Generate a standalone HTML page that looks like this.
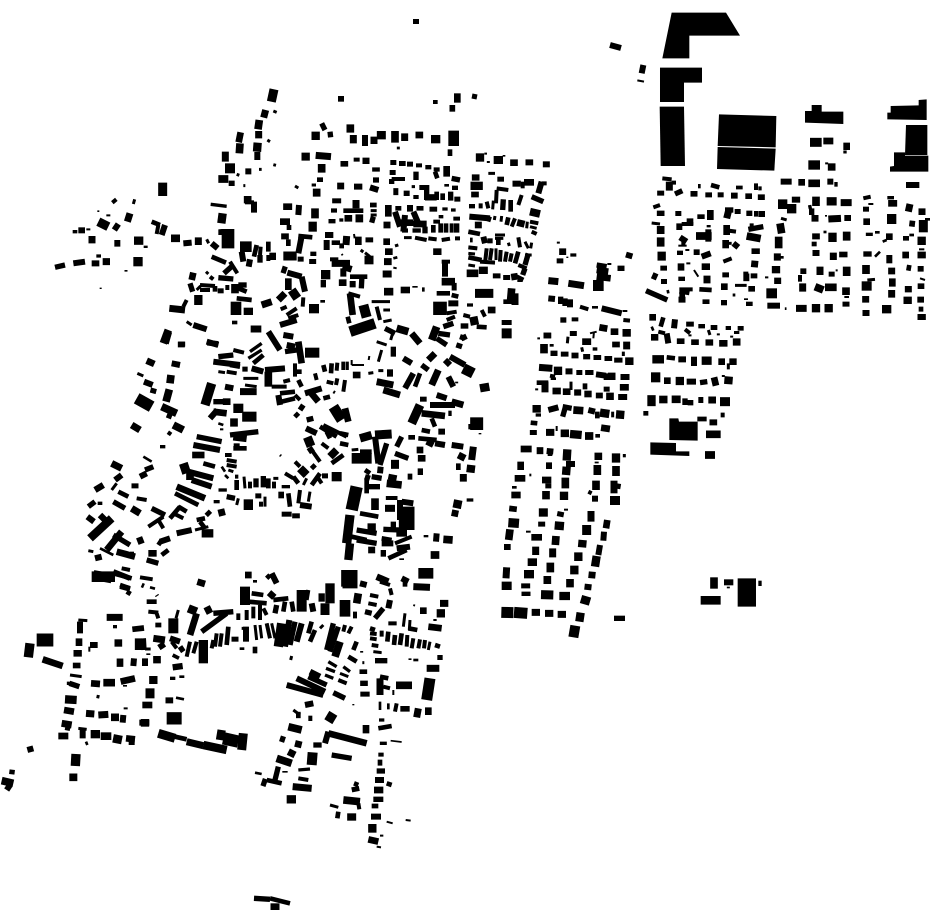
<!DOCTYPE html>
<html><head><meta charset="utf-8"><title>Figure-ground plan</title>
<style>
html,body{margin:0;padding:0;background:#fff}
svg{display:block}
path{stroke:#000;fill:none}
polygon{fill:#000}
.w3{stroke-width:5}.w4{stroke-width:6}.w5{stroke-width:8}.w6{stroke-width:9}.w7{stroke-width:10}.w8{stroke-width:12}.w10{stroke-width:14}.w12{stroke-width:16}.w13{stroke-width:17}.w14{stroke-width:18}.w15{stroke-width:19}.w16{stroke-width:20}.w18{stroke-width:21}.w20{stroke-width:23}.w22{stroke-width:25}.w24{stroke-width:27}.w25{stroke-width:28}.w26{stroke-width:28}.w28{stroke-width:30}.w30{stroke-width:32}.w32{stroke-width:33}.w34{stroke-width:35}.w36{stroke-width:37}.w38{stroke-width:39}.w40{stroke-width:41}.w42{stroke-width:43}.w44{stroke-width:45}.w46{stroke-width:47}
</style></head><body>
<svg xmlns="http://www.w3.org/2000/svg" width="930" height="924" viewBox="0 0 930 924">
<rect width="930" height="924" fill="#fff"/>
<path class="w4" d="M416 19 416 24M610 45 621 48"/><path class="w3" d="M472 96 477 97"/>
<!-- Z1 -->
<g transform="translate(150 80) scale(.33333)">
<path class=w24 d="M372 28 364 65"/><path class=w18 d="M347 90 341 113"/><path class=w14 d="M573 48 573 65"/><path class=w10 d="M856 60 856 72"/><path class=w16 d="M922 40 922 68"/><path class=w13 d="M907 75 907 95"/><path class=w6 d="M370 93 380 97M352 180 360 185M327 268 335 268M370 254 378 256M260 283 268 286M280 317 286 317M170 478 176 490M435 318 445 324M485 315 498 315M745 200 745 208"/>
<path class=w20 d="M328 120 324 148M270 190 268 220M205 297 235 297M63 475 90 475M601 133 601 158M808 155 808 175M515 252 515 278M583 243 583 260M500 326 500 350M678 262 678 275"/>
<path class=w18 d="M326 153 326 175M226 215 226 245M764 160 764 183M610 165 610 190M648 233 648 252M497 226 543 230M572 308 572 328"/><path class=w16 d="M272 157 266 187"/><path class=w22 d="M323 188 321 215M497 155 497 180M467 218 467 242"/><path class=w14 d="M322 216 322 240M295 265 295 283M245 302 245 318M620 233 620 245M510 292 510 306M612 320 637 320M660 322 685 330M678 292 678 308"/>
<path class=w28 d="M240 250 240 280"/><path class=w24 d="M38 308 38 348M694 153 694 178M413 370 413 390"/><path class=w20 d="M293 348 293 370M735 153 735 188"/><path class=w14 d="M312 365 312 398M645 165 645 198"/><path class=w8 d="M285 367 312 367"/><path class=w7 d="M182 373 230 379"/><path class=w22 d="M218 400 214 430"/>
<polygon points="215,447 253,447 253,505 215,505 215,465 205,465 205,448"/>
<path class=w10 d="M5 425 30 435"/><path class=w8 d="M25 435 20 462"/><path class=w14 d="M45 435 35 465M100 490 125 488M185 490 203 505M447 375 445 405"/><path class=w18 d="M145 472 145 495M672 170 672 192"/><path class=w26 d="M857 165 857 190"/><path class=w30 d="M911 152 911 198M270 500 305 500"/><path class=w12 d="M515 130 525 150M540 155 542 172"/><path class=w10 d="M900 208 900 228"/>
<path class=w20 d="M495 385 495 415M405 460 405 478"/><path class=w28 d="M405 415 405 435"/><path class=w10 d="M417 435 417 450M415 478 415 498M445 468 487 472M320 495 312 530M355 485 355 515"/><path class=w22 d="M488 425 488 455"/><path class=w14 d="M455 468 445 520M275 515 280 545M300 538 296 560"/><path class=w24 d="M400 528 440 528"/><path class=w14 d="M452 530 452 545M490 515 490 528"/><path class=w18 d="M488 537 488 552M395 567 410 572"/>
<path class=w8 d="M332 500 330 525"/><path class=w12 d="M330 525 330 548"/><path class=w16 d="M368 518 368 540"/><path class=w8 d="M355 525 355 543"/><path class=w14 d="M412 578 455 590M455 590 465 635"/><path class=w16 d="M415 595 415 630"/><path class=w18 d="M385 660 405 640M335 675 365 665"/><path class=w24 d="M425 630 442 655"/><path class=w8 d="M460 652 458 680"/><path class=w28 d="M492 672 492 700"/><path class=w10 d="M518 660 518 668"/>
<!-- dense NE -->
<path class=w14 d="M730 240 730 255M780 245 780 260M807 250 807 262M835 255 835 268M860 262 860 275M728 270 728 285M770 332 770 348M745 378 745 392M780 375 780 395M922 350 922 365M915 317 915 330"/><path class=w16 d="M757 243 757 258M890 258 890 290M715 375 715 410M920 410 920 422"/><path class=w8 d="M725 297 765 297M850 425 870 425M905 430 905 458M795 473 830 480M835 475 860 478M875 480 900 476M915 475 930 475"/><path class=w12 d="M725 297 725 312M798 275 798 300M905 295 930 300M798 345 798 357M830 315 830 360M902 335 902 362M885 382 885 392M825 440 825 460M920 430 920 458"/><path class=w10 d="M855 275 862 295M890 312 890 320M815 315 815 330M860 335 860 360M878 340 878 360M910 385 910 395M873 405 873 415M850 435 850 458M872 430 872 458M888 430 888 458"/><path class=w18 d="M730 335 745 335M810 378 810 392M711 425 711 445"/><path class=w15 d="M825 352 860 352"/><path class=w20 d="M850 380 850 395"/><path class=w14 d="M735 395 750 440M765 405 760 455M790 395 805 430M765 445 765 458"/><path class=w16 d="M745 428 790 428M790 432 830 432M710 475 710 495"/><path class=w22 d="M800 445 800 458"/><path class=w6 d="M762 473 785 473M785 320 795 320"/>
<path class=w24 d="M560 355 560 370"/><path class=w18 d="M618 360 618 385"/><path class=w16 d="M670 368 670 382M625 470 625 495"/><path class=w10 d="M580 392 640 392M545 488 570 488M575 490 575 505"/><path class=w14 d="M552 385 552 398M525 465 550 465M530 480 530 510"/><path class=w6 d="M662 392 680 392M662 405 680 405M632 510 640 516M645 518 660 530"/><path class=w12 d="M670 410 665 428"/><path class=w20 d="M595 405 595 425M628 403 628 427M658 472 658 487"/><path class=w18 d="M546 417 546 430M590 468 588 495"/><path class=w8 d="M574 415 574 425"/><path class=w4 d="M612 462 614 475M575 522 578 526"/><path class=w24 d="M657 527 657 553"/>
<path class=w8 d="M540 538 565 538"/><path class=w18 d="M545 550 600 550"/><path class=w16 d="M578 560 605 568"/><path class=w14 d="M580 565 580 590M608 603 608 622"/><path class=w20 d="M578 598 578 618"/><path class=w12 d="M636 585 634 625M520 600 520 622"/><path class=w10 d="M600 590 652 590"/><path class=w26 d="M527 570 527 598"/>
<path class=w16 d="M705 515 728 515"/><path class=w18 d="M702 545 725 545M698 582 725 582"/><path class=w5 d="M730 535 742 532M820 622 820 635"/><path class=w6 d="M735 498 745 495"/><path class=w4 d="M730 563 740 565"/><path class=w20 d="M702 635 730 635"/><path class=w16 d="M752 630 780 630"/><path class=w12 d="M795 618 795 623"/><path class=w22 d="M862 505 862 525"/>
<path class=w10 d="M185 530 228 548"/><path class=w8 d="M240 545 262 580"/><path class=w12 d="M222 580 250 555M205 593 250 597M120 610 128 635"/><path class=w16 d="M130 578 125 600"/><path class=w6 d="M168 575 175 582"/><path class=w8 d="M180 590 190 598M150 615 195 618M150 630 180 630"/><path class=w22 d="M145 645 145 675"/><path class=w6 d="M140 630 152 618"/><path class=w10 d="M195 618 195 635"/><path class=w14 d="M212 625 212 640"/><path class=w8 d="M232 615 232 630"/><path class=w20 d="M255 612 255 640"/><path class=w12 d="M290 615 265 615"/><path class=w10 d="M265 625 290 635M260 655 305 660"/><path class=w30 d="M258 665 258 705"/><path class=w26 d="M295 683 295 705"/>
<path class=w18 d="M58 685 105 690"/><path class=w8 d="M110 660 100 680"/><path class=w6 d="M110 725 125 735"/><path class=w14 d="M130 735 170 748M170 785 205 795"/><path class=w20 d="M55 750 40 790"/><path class=w18 d="M94 785 94 802M302 747 334 747"/><path class=w12 d="M254 722 254 733"/>
<path class=w8 d="M392 688 410 680M410 705 440 685M415 715 445 705"/><path class=w14 d="M390 735 440 720"/><path class=w16 d="M600 640 608 705"/><path class=w8 d="M595 640 630 650M680 680 690 720"/><path class=w28 d="M640 675 650 712"/><path class=w10 d="M593 710 598 730"/><path class=w30 d="M600 755 675 730"/><path class=w6 d="M665 665 720 665M700 690 720 690M700 725 725 720M728 760 722 780"/><path class=w12 d="M705 745 735 760"/><path class=w20 d="M740 745 775 755"/>
<path class=w8 d="M875 545 900 545"/><path class=w14 d="M885 545 885 590M895 670 925 670"/><path class=w20 d="M875 605 915 605M905 620 920 620M860 740 845 780"/><path class=w10 d="M860 640 900 640M905 645 925 650"/><path class=w40 d="M870 665 870 705"/><path class=w8 d="M890 700 920 695M890 720 915 710"/><path class=w12 d="M880 740 910 730"/>
</g>
<!-- Z6 -->
<g transform="translate(440 140) scale(.33333)">
<path class=w22 d="M120 40 120 65"/><path class=w5 d="M137 38 137 44M192 45 192 50"/><path class=w6 d="M145 63 145 69M145 100 165 100"/><path class=w26 d="M175 48 175 72"/><path class=w20 d="M222 58 222 78M268 58 268 76M107 103 107 122M105 155 105 172"/><path class=w18 d="M319 64 319 82"/><path class=w16 d="M182 110 182 125"/><path class=w36 d="M110 125 110 150"/>
<path class=w14 d="M96 192 96 205M305 125 295 160"/><path class=w8 d="M122 190 122 205M140 185 145 205M170 145 205 150M170 150 168 190M245 165 235 195M305 130 320 130"/><path class=w6 d="M160 182 158 208"/><path class=w12 d="M190 178 188 210M275 170 310 185"/><path class=w10 d="M212 180 212 215"/><path class=w22 d="M230 122 230 140"/><path class=w28 d="M267 117 267 137"/><path class=w8 d="M248 125 248 145"/><path class=w20 d="M270 215 300 222M245 240 240 260"/>
<path class=w14 d="M88 230 150 235"/><path class=w18 d="M115 245 115 265"/><path class=w8 d="M150 230 145 245M225 235 215 260M270 245 295 250M275 275 290 282M85 322 112 325"/><path class=w6 d="M165 228 163 240M185 228 183 245M262 245 260 265M270 260 290 265M165 285 195 285M165 295 190 295M205 308 208 318M255 305 265 325M275 308 272 325M85 340 105 342M85 375 105 378"/><path class=w10 d="M205 232 200 255M85 275 120 282M90 300 98 300M175 298 175 315M85 352 125 360"/><path class=w14 d="M130 290 135 310"/><path class=w12 d="M150 295 150 310"/><path class=w8 d="M235 292 240 322"/>
<path class=w8 d="M140 325 135 370M155 325 150 360M182 330 180 365M200 335 195 365M215 340 210 365M120 365 165 368M235 375 260 385"/><path class=w6 d="M168 325 168 360M255 345 275 345"/><path class=w10 d="M235 335 225 370M230 410 250 420"/><path class=w12 d="M265 340 255 375M255 385 248 405M240 420 240 426"/><path class=w20 d="M80 400 115 400M170 400 170 415"/><path class=w24 d="M130 380 130 402M105 460 160 460"/><path class=w18 d="M200 405 200 420"/><path class=w16 d="M222 400 225 420"/>
<path class=w20 d="M215 445 212 480M155 500 155 520"/><path class=w18 d="M225 460 225 495"/><path class=w10 d="M190 485 225 485M110 560 140 562"/><path class=w14 d="M90 490 90 500M68 585 75 600"/><path class=w8 d="M125 510 135 530M70 525 90 530"/><path class=w22 d="M100 530 105 555"/><path class=w12 d="M62 558 85 558"/><path class=w28 d="M200 540 200 555M200 565 200 595"/><path class=w20 d="M322 578 322 595"/>
</g>
<!-- Z7 -->
<g transform="translate(50 190) scale(.33333)">
<path class=w8 d="M187 38 199 28M175 73 175 79M115 115 115 121M287 167 287 174"/><path class=w6 d="M250 42 254 28M228 240 228 245"/><path class=w4 d="M145 61 145 66M152 293 152 297"/><path class=w18 d="M240 70 232 95M126 138 126 160M158 215 180 215"/><path class=w24 d="M145 95 175 110"/><path class=w14 d="M205 102 193 120M202 150 202 170M70 220 105 215M125 220 148 220"/><path class=w10 d="M75 120 75 130M146 193 146 203"/><path class=w16 d="M95 112 95 130"/><path class=w22 d="M252 152 280 152"/><path class=w12 d="M15 232 45 225"/><path class=w26 d="M250 215 278 215"/>
</g>
<!-- Z8 -->
<g transform="translate(80 450) scale(.33333)">
<path class=w18 d="M95 40 125 55"/><path class=w14 d="M105 90 125 75M22 200 42 215M45 325 65 320"/><path class=w6 d="M95 120 110 100M25 302 40 305"/><path class=w15 d="M45 120 70 105M60 195 75 210"/><path class=w10 d="M115 125 145 140M60 155 60 165M100 370 155 385M120 405 150 415"/><path class=w12 d="M100 155 135 175M25 170 45 155M100 255 150 285"/><path class=w22 d="M30 265 95 205"/><path class=w16 d="M80 300 125 245M110 305 165 320"/><path class=w5 d="M60 295 100 315"/><path class=w30 d="M35 380 105 380"/><path class=w8 d="M125 355 150 360"/>
</g>
<!-- Z2 -->
<g transform="translate(130 330) scale(.33333)">
<path class=w20 d="M115 5 105 40M123 135 120 160M118 178 108 215M95 230 140 250M130 285 160 300"/><path class=w18 d="M155 35 155 50M5 285 30 300"/><path class=w13 d="M232 38 265 42"/><path class=w16 d="M50 92 73 102"/><path class=w14 d="M125 100 150 105M42 155 68 165M72 175 68 190"/><path class=w6 d="M22 130 40 138"/><path class=w34 d="M20 205 65 230"/><path class=w12 d="M125 240 115 265M98 345 98 355"/><path class=w8 d="M122 305 115 315"/>
<path class=w14 d="M250 95 330 105"/><path class=w12 d="M265 80 310 75"/><path class=w8 d="M310 60 342 68M290 125 320 130"/><path class=w10 d="M300 105 330 110"/><path class=w6 d="M265 125 285 128M340 145 385 145M345 165 380 170"/><path class=w7 d="M360 65 395 40M355 85 395 60"/><path class=w10 d="M370 100 400 75"/><path class=w12 d="M345 110 345 125M465 65 500 60"/><path class=w14 d="M365 115 400 125M415 5 450 60M460 15 490 20M470 45 495 50"/><path class=w18 d="M330 185 380 185"/><path class=w16 d="M505 35 515 100"/><path class=w28 d="M525 68 568 68"/>
<path class=w14 d="M405 120 465 115M445 195 450 225"/><path class=w20 d="M415 125 415 170"/><path class=w8 d="M425 170 470 170M460 155 480 150M495 100 495 140M495 195 510 210"/><path class=w10 d="M450 190 495 185M455 215 495 205M500 125 515 125M505 150 515 170"/>
<path class=w8 d="M555 130 560 150M622 98 620 122M640 95 640 120M590 155 610 160M622 145 618 165M645 150 640 185"/><path class=w10 d="M580 105 585 125M605 100 603 130"/><path class=w6 d="M652 95 652 120M610 185 615 188M715 130 730 128M745 122 760 122"/><path class=w4 d="M665 90 665 105M665 105 702 105M718 78 716 90"/><path class=w20 d="M680 125 680 145"/><path class=w14 d="M780 118 780 140"/>
<path class=w12 d="M790 50 790 80"/><path class=w14 d="M820 85 845 100M850 130 825 175"/><path class=w6 d="M755 60 745 95M740 35 770 45"/><path class=w18 d="M740 155 790 165"/><path class=w16 d="M760 180 810 195"/><path class=w10 d="M870 130 855 170"/><path class=w12 d="M875 105 895 120"/>
<path class=w16 d="M845 10 870 40M895 90 915 70"/><path class=w12 d="M925 10 960 15M920 25 950 45M1000 15 995 30"/><path class=w14 d="M990 40 985 55M960 80 1005 105M945 90 960 105"/><path class=w30 d="M1000 115 1030 130"/><path class=w18 d="M925 120 905 165"/><path class=w14 d="M955 140 970 170"/><path class=w6 d="M980 155 980 160"/><path class=w22 d="M1050 175 1078 170"/><path class=w16 d="M880 200 880 215"/>
<path class=w24 d="M870 225 845 280"/><path class=w16 d="M875 250 945 258M965 215 1000 225"/><path class=w14 d="M900 225 975 225M920 195 950 205M925 305 945 305"/><path class=w10 d="M905 265 915 290M875 300 900 305"/><path class=w12 d="M955 250 965 250"/><path class=w38 d="M1040 262 1040 300"/><path class=w12 d="M1015 290 1030 290"/><path class=w5 d="M1050 309 1050 313"/>
<path class=w12 d="M520 225 510 240M495 250 505 260M530 270 550 265"/><path class=w16 d="M540 185 565 215"/><path class=w14 d="M525 190 575 175"/><path class=w10 d="M580 205 600 200"/><path class=w30 d="M610 230 635 270"/><path class=w16 d="M645 235 655 275"/><path class=w14 d="M528 295 560 310"/><path class=w10 d="M570 290 620 320M590 305 600 325M630 310 655 315M630 340 655 345M605 400 640 375"/><path class=w8 d="M580 285 650 320M575 340 595 355M545 360 570 395"/><path class=w28 d="M525 340 550 330"/><path class=w14 d="M535 365 550 355M585 430 585 445"/><path class=w20 d="M600 380 620 360"/><path class=w26 d="M605 440 635 440"/>
<path class=w8 d="M495 395 510 410M465 430 490 445M565 445 575 460"/><path class=w22 d="M510 415 530 435"/><path class=w12 d="M545 405 555 415"/><path class=w10 d="M490 440 505 460M545 465 570 430"/><path class=w6 d="M530 445 520 465"/><path class=w10 d="M320 450 320 480M415 445 415 475"/><path class=w6 d="M342 440 345 475M430 445 445 445"/><path class=w8 d="M360 455 360 475M432 455 432 475"/><path class=w12 d="M378 445 378 472M400 438 400 472"/><path class=w7 d="M455 470 480 470"/><path class=w16 d="M445 495 462 495"/><path class=w10 d="M475 490 480 530"/><path class=w8 d="M510 480 505 520"/><path class=w6 d="M540 485 535 515"/><path class=w14 d="M510 525 545 530M385 490 385 505"/><path class=w28 d="M470 545 470 560"/><path class=w20 d="M498 550 498 565"/><path class=w6 d="M405 500 405 530M325 505 320 525"/><path class=w8 d="M393 515 393 530"/><path class=w26 d="M355 508 355 540"/><path class=w12 d="M290 500 315 505"/><path class=w14 d="M260 510 260 520"/><path class=w22 d="M278 475 278 485"/>
<path class=w12 d="M200 320 275 335"/><path class=w14 d="M190 345 270 360M175 425 250 445M185 450 245 470"/><path class=w36 d="M205 365 205 385"/><path class=w10 d="M220 400 255 410M135 490 205 525"/><path class=w24 d="M160 400 170 430"/><path class=w16 d="M140 470 225 505"/><path class=w20 d="M180 425 180 450"/>
<path class=w12 d="M300 315 385 305"/><path class=w20 d="M310 320 350 325M312 265 312 290"/><path class=w14 d="M320 340 320 360"/><path class=w10 d="M310 355 350 355"/><path class=w8 d="M285 375 305 375M290 390 320 395M290 405 320 410M315 440 325 440"/><path class=w5 d="M275 410 285 425M285 435 295 445M265 280 280 285"/><path class=w6 d="M295 420 310 425"/>
<path class=w26 d="M245 160 225 225"/><path class=w12 d="M250 215 300 215"/><path class=w20 d="M290 205 290 225"/><path class=w14 d="M285 170 310 175M240 265 262 240"/><path class=w16 d="M250 245 290 250"/><path class=w4 d="M270 298 280 298"/><path class=w25 d="M310 235 340 235"/><path class=w42 d="M358 245 358 275"/>
<path class=w5 d="M40 380 65 395"/><path class=w12 d="M45 420 70 410"/><path class=w14 d="M30 440 50 430"/><path class=w18 d="M15 460 15 475M5 535 30 550"/><path class=w8 d="M20 505 50 510M55 590 100 560M85 570 100 595M130 550 160 565"/><path class=w12 d="M65 535 105 555"/><path class=w10 d="M120 565 150 530M145 530 170 545"/><path class=w14 d="M140 610 185 600M90 635 120 625"/><path class=w18 d="M22 635 40 628"/><path class=w10 d="M85 645 95 630M95 675 115 660"/><path class=w16 d="M55 670 80 670"/><path class=w12 d="M50 690 85 700"/><path class=w16 d="M0 675 12 675"/>
<path class=w10 d="M200 570 225 565"/><path class=w14 d="M230 545 240 555"/><path class=w18 d="M265 550 285 545"/><path class=w22 d="M215 610 250 610"/><path class=w6 d="M195 600 235 590"/><path class=w10 d="M210 575 225 595"/>
<path class=w36 d="M680 470 665 540"/><path class=w26 d="M660 555 650 640"/><path class=w22 d="M660 640 655 690"/><path class=w12 d="M705 440 720 445M710 470 750 470M725 440 755 445M680 600 740 610M680 630 740 640"/><path class=w10 d="M710 445 710 490M690 550 745 560M665 620 710 630"/><path class=w20 d="M735 505 735 540"/><path class=w22 d="M725 580 725 610"/><path class=w18 d="M725 650 725 670"/>
<path class=w30 d="M665 385 725 385"/><path class=w10 d="M690 365 725 365M705 420 720 430"/><path class=w6 d="M665 360 685 358"/><path class=w22 d="M690 325 725 315"/><path class=w24 d="M735 315 785 312"/><path class=w14 d="M735 320 745 400M752 410 750 430"/><path class=w12 d="M770 340 750 405M815 320 800 350M795 370 835 385"/><path class=w10 d="M835 322 855 322"/><path class=w24 d="M783 403 807 403"/><path class=w20 d="M770 460 815 465"/><path class=w14 d="M775 440 800 445"/><path class=w34 d="M785 498 785 510"/><path class=w18 d="M765 535 795 535"/><path class=w14 d="M815 515 850 520"/><path class=w46 d="M830 530 830 600"/><path class=w14 d="M810 510 810 570"/><path class=w12 d="M760 598 810 600M790 575 790 595"/><path class=w30 d="M815 595 815 620"/><path class=w10 d="M755 625 785 630M775 685 830 660"/><path class=w14 d="M755 640 790 640M800 655 840 650"/><path class=w8 d="M795 640 845 620"/><path class=w12 d="M760 660 760 680"/><path class=w10 d="M815 685 815 690"/>
<path class=w14 d="M833 440 847 440M890 335 910 345M915 340 945 345M965 345 1000 350"/><path class=w16 d="M863 425 879 425M870 350 870 370"/><path class=w10 d="M865 325 920 330M985 400 985 420"/><path class=w20 d="M875 375 875 395M1010 415 1035 418"/><path class=w18 d="M985 375 1005 385M1030 350 1025 390M1000 432 1000 455"/><path class=w22 d="M970 520 995 525"/><path class=w16 d="M1020 505 1020 515M965 548 985 552"/><path class=w10 d="M888 615 888 622"/><path class=w14 d="M920 610 918 635"/><path class=w20 d="M940 628 968 630M902 675 928 675"/>
<path class=w5 d="M450 375 453 378"/>
</g>
<!-- Z3 -->
<g transform="translate(0 570) scale(.33333)">
<path class=w28 d="M280 15 335 25M735 50 735 105M905 60 905 125"/><path class=w12 d="M340 5 390 25"/><path class=w10 d="M360 50 390 58M380 65 392 72M425 45 432 48M440 95 470 95M800 15 810 25M755 70 790 75M745 95 800 100M820 90 865 85M855 95 850 125M875 95 880 125"/><path class=w8 d="M420 22 458 28M445 125 475 128M470 130 475 145M470 75 472 78M765 30 765 38M790 115 800 135M925 60 920 90"/><path class=w5 d="M450 52 465 56"/><path class=w14 d="M475 158 475 172M815 10 830 40M935 100 940 125"/><path class=w16 d="M592 35 615 42M735 15 755 15M807 68 823 82"/><path class=w12 d="M830 105 825 130"/>
<path class=w26 d="M990 40 990 100"/><path class=w15 d="M965 70 965 95"/><path class=w24 d="M975 100 975 135"/><path class=w44 d="M1050 0 1050 55"/><path class=w15 d="M1033 0 1033 50"/><path class=w30 d="M1035 90 1035 140M1255 10 1300 10"/><path class=w20 d="M1075 70 1070 100"/><path class=w8 d="M1065 125 1065 145M1140 35 1170 45M1170 55 1175 75M1110 75 1135 80M1105 100 1130 105"/><path class=w14 d="M1080 40 1100 45M1205 25 1225 35M1170 90 1165 115"/><path class=w16 d="M1130 20 1165 35M1260 122 1280 122"/><path class=w10 d="M1215 35 1215 50"/><path class=w18 d="M1240 50 1290 52M1320 100 1345 100"/><path class=w12 d="M1095 125 1115 130M1150 115 1125 145"/><path class=w22 d="M1310 130 1335 130"/><path class=w4 d="M1240 105 1245 107M1300 150 1310 150"/>
<path class=w28 d="M520 145 520 190"/><path class=w6 d="M535 120 528 145"/><path class=w22 d="M565 115 590 125"/><path class=w16 d="M590 130 570 195"/><path class=w18 d="M620 110 630 130"/><path class=w12 d="M605 185 680 130M640 130 700 125"/><path class=w8 d="M715 130 715 150M740 120 740 150M760 110 760 145M780 105 780 150"/><path class=w13 d="M397 178 432 174"/><path class=w18 d="M320 142 368 142"/><path class=w8 d="M345 165 345 175"/><path class=w20 d="M355 208 355 230"/><path class=w14 d="M270 225 293 225"/><path class=w4 d="M268 230 268 245"/><path class=w18 d="M415 205 415 240M460 205 495 210"/><path class=w12 d="M430 205 432 240M540 230 550 245"/><path class=w6 d="M435 237 452 237"/><path class=w16 d="M480 220 490 235"/><path class=w14 d="M510 205 540 215"/><path class=w8 d="M515 215 530 235M445 250 445 255M570 215 560 260M590 215 580 250"/><path class=w18 d="M530 255 525 265"/><path class=w26 d="M610 210 610 280"/><path class=w8 d="M640 210 635 235M650 190 645 230M665 190 660 230"/><path class=w10 d="M685 170 680 225"/><path class=w18 d="M705 200 705 215"/><path class=w6 d="M725 175 745 175M765 165 770 210M780 165 785 205M815 160 825 205"/><path class=w14 d="M738 170 738 215"/><path class=w8 d="M800 160 810 205"/><path class=w26 d="M845 160 835 230"/><path class=w14 d="M868 150 855 230M905 160 890 215"/><path class=w12 d="M885 155 870 225"/><path class=w10 d="M935 155 925 190M945 180 930 215M1070 215 1060 240"/><path class=w12 d="M1000 160 980 240M1015 170 990 245"/><path class=w20 d="M1020 215 1005 260"/><path class=w8 d="M1055 170 1045 190M1035 165 1030 185"/><path class=w6 d="M970 165 960 175M875 258 872 270M1085 243 1085 248"/><path class=w10 d="M726 232 726 240"/><path class=w16 d="M758 240 772 240"/>
<path class=w10 d="M1110 175 1125 180"/><path class=w8 d="M1110 190 1130 192M1110 205 1130 208M1115 225 1135 228"/><path class=w6 d="M1120 245 1145 248"/><path class=w12 d="M1125 272 1162 272M1320 255 1320 270"/><path class=w8 d="M1145 182 1145 200M1222 195 1220 230M1240 205 1235 235M1260 208 1255 235M1275 210 1272 235M1165 160 1190 160"/><path class=w10 d="M1165 185 1162 215M1185 195 1182 225M1205 190 1200 225M1305 225 1320 230M1225 175 1252 180"/><path class=w6 d="M1290 215 1285 240M1215 130 1210 170M1230 150 1228 180M1230 265 1230 270"/><path class=w16 d="M1285 170 1325 175"/><path class=w18 d="M1280 295 1318 295"/><path class=w5 d="M1240 270 1255 270"/>
<path class=w22 d="M350 278 370 278M460 318 460 342"/><path class=w14 d="M402 265 400 288M435 265 435 288"/><path class=w20 d="M471 258 471 280M508 382 508 400"/><path class=w15 d="M518 292 548 288"/><path class=w12 d="M518 320 518 330"/><path class=w5 d="M538 320 553 320M528 383 552 388"/><path class=w24 d="M450 355 450 385"/><path class=w28 d="M442 395 442 415"/><path class=w22 d="M435 447 435 470"/><path class=w36 d="M500 445 545 445"/>
<path class=w24 d="M475 490 525 505"/><path class=w10 d="M525 500 560 508"/><path class=w18 d="M560 515 610 527"/><path class=w22 d="M610 525 680 540M665 480 660 510"/><path class=w36 d="M670 505 715 515"/><path class=w24 d="M730 490 725 540"/>
<path class=w6 d="M235 150 262 152M210 315 245 320M205 335 205 345M235 475 260 478"/><path class=w14 d="M240 155 240 190M248 478 248 505"/><path class=w16 d="M237 205 237 228M192 420 222 425M175 498 205 498M378 505 405 508"/><path class=w22 d="M233 240 233 260M195 388 230 390"/><path class=w20 d="M230 278 230 295"/><path class=w12 d="M208 340 238 350"/><path class=w18 d="M185 460 215 465"/><path class=w7 d="M195 475 210 478"/><path class=w26 d="M286 480 286 505"/><path class=w30 d="M318 487 318 510"/><path class=w24 d="M355 495 350 520"/><path class=w14 d="M395 510 395 525"/><path class=w5 d="M258 515 262 525"/>
<path class=w16 d="M273 340 300 342M362 335 405 325"/><path class=w20 d="M310 338 345 338M333 442 357 442"/><path class=w6 d="M295 375 293 385"/><path class=w18 d="M258 430 283 432M295 435 325 433"/><path class=w14 d="M370 435 368 458M418 458 448 458"/><path class=w8 d="M377 412 377 418M375 345 375 350"/>
<path class=w38 d="M110 210 160 210"/><path class=w26 d="M90 220 85 262M228 552 226 588"/><path class=w16 d="M128 268 188 288"/><path class=w14 d="M82 540 100 535"/><path class=w10 d="M28 605 44 607"/><path class=w20 d="M5 632 40 640M208 622 232 622"/><path class=w14 d="M30 645 20 660"/>
<path class=w14 d="M860 345 970 375M930 305 960 320M890 325 975 365"/><path class=w12 d="M925 320 980 345M1000 368 1035 385"/><path class=w7 d="M985 275 1010 290M978 295 1005 305M975 315 1000 325M1030 290 1050 305"/><path class=w6 d="M1020 310 1045 320M880 420 900 435"/><path class=w8 d="M1015 330 1040 340"/><path class=w10 d="M1045 260 1070 275"/><path class=w4 d="M1060 402 1060 406"/><path class=w14 d="M915 405 940 400M840 505 855 510"/><path class=w15 d="M888 435 902 435"/><path class=w12 d="M925 445 937 445"/><path class=w20 d="M865 470 905 480M830 565 875 580"/><path class=w16 d="M885 520 905 525"/><path class=w18 d="M865 545 885 555"/><path class=w12 d="M835 590 825 630M855 603 855 608"/><path class=w20 d="M785 635 800 640"/><path class=w10 d="M800 630 845 640"/><path class=w5 d="M765 608 785 612"/><path class=w7 d="M895 600 930 597"/><path class=w8 d="M895 625 925 630"/><path class=w18 d="M878 650 935 655"/><path class=w22 d="M860 688 888 688"/><path class=w25 d="M1000 430 985 455"/><path class=w12 d="M940 525 965 525M995 555 1055 565"/><path class=w28 d="M938 547 935 585"/><path class=w14 d="M985 485 975 520"/><path class=w16 d="M985 490 1100 520M1098 465 1098 490"/><path class=w10 d="M1062 640 1075 645M1015 725 1012 745"/><path class=w20 d="M1065 650 1068 665M1030 690 1080 695"/><path class=w8 d="M1075 700 1078 718"/><path class=w6 d="M990 705 1015 712"/><path class=w24 d="M1055 730 1055 752"/>
<path class=w6 d="M1087 278 1093 278"/><path class=w20 d="M1090 298 1090 312M1092 332 1092 348M1188 346 1236 346"/><path class=w26 d="M1095 365 1095 380M1215 408 1215 425"/><path class=w10 d="M1140 320 1165 325"/><path class=w18 d="M1140 325 1140 375M1255 415 1250 442M1150 515 1150 525"/><path class=w8 d="M1150 350 1170 355M1190 400 1185 425"/><path class=w4 d="M1180 360 1180 375M1160 755 1178 760M1217 750 1232 752M1140 797 1150 797M1130 830 1143 832"/><path class=w32 d="M1290 325 1280 390"/><path class=w5 d="M1140 395 1140 420M1165 400 1165 418"/><path class=w16 d="M1285 412 1285 435M1122 660 1150 660M1105 808 1135 815"/><path class=w12 d="M1145 445 1145 455M1143 548 1143 560M1130 603 1155 603M1120 688 1150 688"/><path class=w10 d="M1135 475 1175 468M1115 708 1135 708M1160 640 1175 645"/><path class=w3 d="M1172 512 1205 516"/><path class=w14 d="M1133 578 1147 578M1125 630 1152 630M1113 740 1143 740"/><path class=w22 d="M1117 762 1117 788"/>
<path class=w12 d="M762 985 810 988"/><path class=w10 d="M810 985 870 1000"/><path class=w24 d="M825 1000 825 1020"/>
</g>
<!-- Z4 -->
<g transform="translate(490 230) scale(.33333)">
<path class=w6 d="M205 35 205 41M400 365 400 378"/><path class=w18 d="M218 55 218 75M393 107 393 123M175 152 205 155M235 160 282 167"/><path class=w14 d="M250 70 250 80M175 205 195 207M315 228 315 236M335 235 395 250"/><path class=w16 d="M210 85 210 100M420 68 415 85M320 120 355 125M320 140 362 145"/><path class=w4 d="M232 80 232 84M142 325 150 325M300 310 320 305M312 305 310 325"/><path class=w12 d="M320 105 350 110M212 200 212 222M225 205 225 228"/><path class=w30 d="M325 150 325 183"/><path class=w14 d="M240 208 240 232"/><path class=w8 d="M270 230 295 238M358 99 358 105M400 270 420 272M245 268 265 268"/><path class=w10 d="M405 240 405 246"/><path class=w14 d="M220 262 220 278"/>
<path class=w16 d="M328 292 352 296M362 305 385 305"/><path class=w22 d="M410 297 410 320"/><path class=w20 d="M172 308 172 325M378 335 378 352M162 342 162 370"/><path class=w18 d="M250 303 250 318M410 335 410 358M192 362 192 378M255 368 255 385M290 372 290 388"/><path class=w6 d="M234 320 232 340M275 352 278 365"/><path class=w24 d="M290 325 290 345"/><path class=w8 d="M185 342 185 350"/><path class=w20 d="M224 365 224 380M322 375 322 390M355 378 355 393"/><path class=w22 d="M385 383 385 398M418 382 418 405"/><path class=w10 d="M315 352 315 362"/>
<path class=w18 d="M147 412 187 415M237 415 237 433"/><path class=w22 d="M204 410 204 435M298 420 298 435M200 473 200 493"/><path class=w14 d="M268 420 268 435M318 433 348 437M350 430 350 450M350 470 350 485"/><path class=w20 d="M365 428 365 450M230 475 230 495M360 488 360 510"/><path class=w24 d="M405 432 405 450M403 462 403 482M398 492 398 510"/><path class=w8 d="M180 437 195 440"/><path class=w12 d="M190 442 190 450"/><path class=w10 d="M140 458 175 458M285 460 285 478"/><path class=w18 d="M165 455 165 487M263 478 263 497M328 488 328 505"/><path class=w6 d="M243 455 243 480M140 475 140 481"/><path class=w16 d="M283 492 305 492"/>
<path class=w22 d="M140 525 140 548M330 548 358 552M378 553 403 555"/><path class=w12 d="M145 550 145 560M218 530 245 535M225 535 218 560"/><path class=w14 d="M175 540 205 532M295 540 315 545"/><path class=w20 d="M250 540 280 542M212 610 237 610M285 618 310 618"/><path class=w10 d="M322 545 322 565M122 578 142 580M323 612 323 623"/><path class=w6 d="M368 545 368 562"/><path class=w18 d="M130 600 130 615M168 607 193 607"/><path class=w4 d="M200 588 200 603"/><path class=w22 d="M240 612 275 615"/><path class=w24 d="M348 585 345 605"/>
<path class=w16 d="M92 657 125 657M92 695 92 720"/><path class=w18 d="M140 662 160 662"/><path class=w14 d="M170 663 190 665M228 702 255 702M177 697 177 717M175 760 175 775"/><path class=w10 d="M180 665 180 678"/><path class=w22 d="M232 658 230 692M230 710 228 735M378 670 378 698"/><path class=w20 d="M325 668 325 690M322 705 322 735M378 708 378 738"/><path class=w6 d="M403 672 403 682"/><path class=w30 d="M90 735 90 755"/><path class=w5 d="M118 735 124 735"/><path class=w26 d="M170 740 170 760M78 785 78 805"/><path class=w20 d="M226 743 226 775M318 752 318 780M168 783 168 808"/><path class=w18 d="M372 752 372 790"/><path class=w12 d="M380 768 392 770"/><path class=w8 d="M295 785 305 790M320 695 320 700"/><path class=w14 d="M315 797 315 815"/><path class=w10 d="M73 768 73 776"/><path class=w22 d="M222 785 222 810"/><path class=w28 d="M375 798 375 825"/>
<path class=w20 d="M70 828 68 845"/><path class=w24 d="M160 835 160 860"/><path class=w16 d="M213 845 210 860M352 870 348 895"/><path class=w8 d="M228 836 228 842"/><path class=w18 d="M303 843 303 875M155 875 155 890"/><path class=w30 d="M72 865 70 893M140 912 140 932"/><path class=w26 d="M209 875 207 900"/><path class=w24 d="M290 885 290 915"/><path class=w20 d="M60 898 56 930M198 918 196 945"/><path class=w4 d="M108 905 122 905"/><path class=w22 d="M278 930 276 952M265 967 265 993M320 978 315 1010M253 1007 253 1033"/><path class=w14 d="M342 905 340 932M330 945 325 975"/><path class=w16 d="M52 942 52 960"/><path class=w18 d="M137 950 137 975M188 955 188 982"/><path class=w26 d="M127 985 127 1008"/><path class=w18 d="M50 1012 48 1045M307 1025 305 1045"/><path class=w28 d="M117 1020 117 1045M50 1055 50 1080"/><path class=w20 d="M181 998 181 1027M172 1038 172 1062M240 1047 240 1072"/><path class=w24 d="M107 1060 107 1075M108 1085 108 1098M153 1094 190 1095"/><path class=w18 d="M295 1062 293 1080"/><path class=w22 d="M208 1098 240 1098M273 1107 300 1115M272 1148 268 1175"/><path class=w32 d="M34 1147 70 1148M72 1147 112 1150"/><path class=w18 d="M125 1147 150 1147M165 1150 190 1150M203 1153 228 1153"/><path class=w12 d="M372 1165 405 1165"/><path class=w28 d="M256 1187 250 1222"/>
<path class=w16 d="M478 262 498 262M635 282 635 295M672 285 672 300M483 322 505 322"/><path class=w10 d="M520 262 512 290"/><path class=w14 d="M555 268 552 295M752 288 752 302M530 310 535 340"/><path class=w20 d="M600 275 600 290M572 325 572 342M615 328 615 345M658 328 658 347M740 325 740 347"/><path class=w12 d="M715 288 715 300M740 303 740 312"/><path class=w5 d="M485 290 490 302"/><path class=w8 d="M585 298 600 310M505 305 525 310"/><path class=w6 d="M655 300 660 315M685 310 685 316M725 317 725 323M600 313 600 319"/><path class=w22 d="M700 330 700 350"/>
<path class=w22 d="M487 388 522 388M635 392 665 392M557 453 582 453"/><path class=w10 d="M530 382 555 385"/><path class=w14 d="M565 388 588 388M612 380 612 408M590 455 618 455"/><path class=w16 d="M685 395 705 395M718 395 740 395M522 452 542 452M672 442 678 467"/><path class=w6 d="M715 400 715 418M700 435 700 441"/><path class=w26 d="M497 427 497 457"/><path class=w12 d="M630 458 652 455"/><path class=w20 d="M703 450 728 452"/>
<path class=w32 d="M472 512 497 512"/><path class=w22 d="M520 497 520 520"/><path class=w20 d="M545 508 572 508M670 568 670 586M648 613 692 613M645 675 675 675"/><path class=w12 d="M585 505 585 525M593 518 610 518"/><path class=w14 d="M625 510 640 510"/><path class=w18 d="M655 510 678 510"/><path class=w24 d="M690 515 720 515"/><path class=w10 d="M460 550 475 550M692 555 704 555M622 567 650 567"/>
<polygon points="538,565 565,565 567,575 623,575 623,632 538,630"/>
<polygon points="481,637 558,639 558,664 598,664 598,678 481,674"/>
<polygon points="743,1045 798,1045 798,1130 743,1130"/>
<polygon points="632,1098 692,1098 692,1124 632,1124"/>
<path class=w20 d="M672 1042 672 1076"/><path class=w14 d="M702 1057 730 1057"/><path class=w6 d="M715 1070 715 1075"/><path class=w12 d="M805 1060 815 1060"/>
</g>
<!-- Z5 -->
<g transform="translate(630 0) scale(.33333)">
<polygon points="125,38 288,38 330,107 178,107 178,175 97,175"/>
<polygon points="90,203 216,203 216,248 162,248 162,306 90,306"/>
<polygon points="89,320 162,320 165,498 92,498"/>
<polygon points="267,343 439,348 437,442 263,438"/>
<polygon points="263,441 437,446 433,512 261,507"/>
<polygon points="545,315 575,315 575,335 640,335 640,372 525,368 525,333 545,333"/>
<polygon points="782,318 866,316 866,300 890,298 890,360 772,358 772,338 782,338"/>
<polygon points="828,375 892,375 892,465 825,465"/>
<polygon points="792,457 825,457 825,467 895,467 895,515 780,515 780,500 792,498"/>
<path class=w14 d="M40 195 35 220"/><path class=w4 d="M22 241 42 245"/>
<path class=w8 d="M97 535 125 538M125 548 138 548M378 550 378 570M385 565 395 565"/><path class=w18 d="M118 545 118 572M92 572 92 587M192 573 192 590M394 583 394 600"/><path class=w12 d="M135 582 157 572"/><path class=w5 d="M208 552 208 565"/><path class=w10 d="M243 555 268 562"/><path class=w16 d="M236 577 236 592M313 578 313 596M328 557 328 568M356 580 356 597"/><path class=w14 d="M272 577 272 592"/>
<path class=w8 d="M70 622 90 615M378 633 378 650"/><path class=w20 d="M92 632 92 648M92 678 92 702"/><path class=w14 d="M145 633 145 648M323 627 323 642M358 632 358 648M148 670 148 690"/><path class=w10 d="M202 650 224 650"/><path class=w16 d="M241 630 241 660M395 633 395 651"/><path class=w12 d="M285 630 310 630"/><path class=w18 d="M295 635 290 655"/>
<path class=w6 d="M65 669 90 672"/><path class=w8 d="M155 672 190 672M236 675 236 682"/><path class=w16 d="M180 655 180 675M290 675 290 705"/><path class=w20 d="M198 708 245 708"/><path class=w14 d="M235 688 235 725"/><path class=w8 d="M295 692 318 695M365 670 365 690"/><path class=w12 d="M355 688 400 680"/><path class=w20 d="M350 708 392 716M92 712 92 740"/><path class=w14 d="M150 712 170 725M310 730 325 742"/><path class=w8 d="M160 720 160 735"/><path class=w4 d="M145 737 170 737"/><path class=w16 d="M287 720 287 745"/><path class=w6 d="M295 730 305 730"/>
<path class=w22 d="M95 755 95 782M377 745 377 762"/><path class=w14 d="M150 752 150 765M200 748 200 765M215 770 242 760"/><path class=w8 d="M172 747 172 753"/><path class=w16 d="M101 797 101 812M153 790 153 812M215 800 240 800M155 830 155 843"/><path class=w12 d="M78 820 70 838"/><path class=w14 d="M102 837 102 852"/><path class=w8 d="M175 787 175 793M280 785 305 775"/><path class=w4 d="M192 810 205 830M340 818 355 818M405 832 415 832"/><path class=w18 d="M231 827 231 850M375 782 373 802"/><path class=w16 d="M287 817 287 832M372 820 372 835M283 850 283 870M365 858 365 875"/><path class=w20 d="M340 832 358 832"/><path class=w6 d="M315 856 350 856M308 885 316 885"/><path class=w12 d="M48 872 112 900"/><path class=w5 d="M113 870 115 880"/><path class=w8 d="M148 868 188 868M148 875 178 880M148 885 165 885"/><path class=w18 d="M156 890 156 908M228 898 228 912"/><path class=w10 d="M208 868 245 870"/><path class=w14 d="M282 900 282 916"/><path class=w8 d="M348 895 348 900"/><path class=w16 d="M358 905 358 918"/>
<path class=w20 d="M446 710 446 745"/><path class=w18 d="M442 760 442 782M443 833 443 852"/><path class=w8 d="M455 768 455 776"/><path class=w22 d="M438 798 438 820"/><path class=w30 d="M425 865 425 895"/><path class=w14 d="M412 917 450 917"/><path class=w3 d="M467 922 467 930"/>
<path class=w26 d="M458 598 458 627M485 612 485 640"/><path class=w22 d="M498 590 498 608"/><path class=w6 d="M453 655 470 660"/><path class=w20 d="M450 670 455 700"/><path class=w14 d="M452 545 485 545M592 545 610 545"/><path class=w16 d="M505 547 525 547"/><path class=w20 d="M535 550 570 550M558 590 558 618"/><path class=w10 d="M613 553 623 553"/><path class=w22 d="M590 604 620 604"/><path class=w18 d="M632 608 665 608M555 645 555 665M595 657 633 655"/><path class=w8 d="M545 620 535 622"/><path class=w16 d="M537 635 553 635M653 645 653 663"/><path class=w4 d="M588 645 588 650M620 808 620 814"/><path class=w6 d="M585 692 585 700"/><path class=w26 d="M595 712 620 712"/><path class=w20 d="M650 695 650 722M558 700 558 718"/><path class=w10 d="M545 732 560 732"/><path class=w18 d="M558 750 558 768M610 758 610 780"/><path class=w22 d="M640 755 640 772"/><path class=w14 d="M520 805 520 822M605 815 605 830"/><path class=w18 d="M570 800 570 825M518 850 518 875"/><path class=w20 d="M650 800 650 828M555 860 580 870M585 862 620 862M648 862 648 885"/><path class=w8 d="M510 825 510 845"/><path class=w10 d="M650 888 650 894"/><path class=w18 d="M648 905 648 920M498 925 530 925"/><path class=w22 d="M558 912 558 937M596 912 596 937"/>
<path class=w24 d="M540 427 575 427"/><path class=w16 d="M580 423 610 423M650 428 650 450"/><path class=w6 d="M640 456 650 456M590 487 590 493"/><path class=w26 d="M535 495 570 495"/><path class=w20 d="M605 490 605 512"/>
<path class=w8 d="M700 595 722 590"/><path class=w14 d="M708 620 708 635"/><path class=w4 d="M715 612 730 612"/><path class=w16 d="M710 655 710 675M778 700 778 720"/><path class=w18 d="M718 698 718 708"/><path class=w10 d="M742 693 742 701"/><path class=w5 d="M758 725 770 720M735 770 750 755"/><path class=w12 d="M700 762 725 762"/><path class=w20 d="M708 795 708 822"/><path class=w6 d="M712 840 735 838"/><path class=w26 d="M695 858 725 858"/><path class=w18 d="M707 888 707 908M708 930 708 948"/>
<path class=w16 d="M782 588 782 598M787 835 787 860"/><path class=w24 d="M788 600 788 620"/><path class=w26 d="M785 642 785 672M770 915 770 940"/><path class=w14 d="M778 765 778 790"/><path class=w18 d="M785 803 785 823M785 870 785 893"/>
<path class=w14 d="M828 555 868 555M838 670 855 672M828 708 828 722M872 798 872 815"/><path class=w18 d="M840 612 835 635M876 625 876 645M835 858 835 877"/><path class=w24 d="M880 660 880 697"/><path class=w5 d="M885 658 900 658"/><path class=w10 d="M845 701 845 709M838 795 835 812M873 920 873 935"/><path class=w22 d="M875 710 875 735M875 755 875 775M833 890 833 912M875 942 875 960"/><path class=w12 d="M875 745 875 751"/><path class=w16 d="M817 765 837 765M873 850 873 867M872 890 872 908"/><path class=w4 d="M870 835 885 840"/>
</g>
</svg>
</body></html>
